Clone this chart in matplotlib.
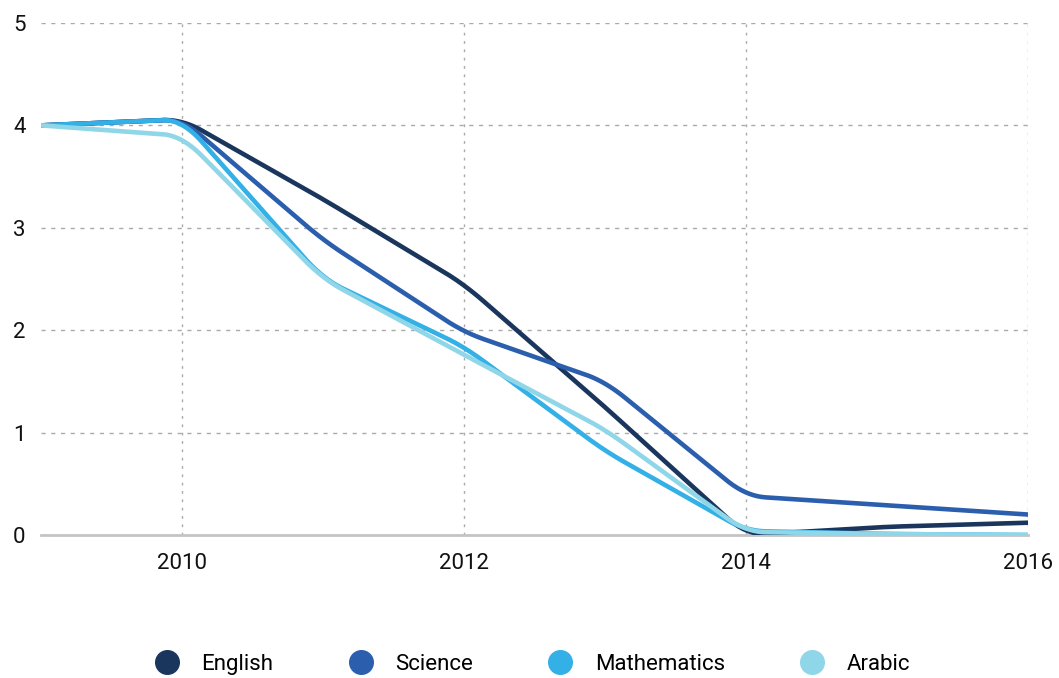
import numpy as np
import matplotlib
matplotlib.use("Agg")
import matplotlib.pyplot as plt
from matplotlib.lines import Line2D

plt.rcParams['font.family'] = ['Roboto', 'DejaVu Sans']

years = [2009, 2010, 2011, 2012, 2013, 2014, 2015, 2016]
english = [4.0, 4.06, 3.28, 2.45, 1.25, 0.0, 0.08, 0.12]
science = [4.0, 4.06, 2.88, 1.98, 1.50, 0.38, 0.29, 0.20]
mathematics = [4.0, 4.06, 2.50, 1.84, 0.82, 0.04, 0.01, 0.0]
arabic = [4.0, 3.90, 2.50, 1.76, 1.03, 0.03, 0.01, 0.0]

names = ['English', 'Science', 'Mathematics', 'Arabic']
colors = ['#1b365d', '#2b5fad', '#33b0e6', '#8fd6e8']


def rounded(x, y, f=0.14, n=30):
    # straight segments with the corners rounded off (quadratic bezier)
    pts = np.column_stack([x, y]).astype(float)
    out = [pts[0]]
    t = np.linspace(0, 1, n)[:, None]
    for k in range(1, len(pts) - 1):
        p = pts[k]
        p1 = p + f * (pts[k - 1] - p)
        p2 = p + f * (pts[k + 1] - p)
        out.extend((1 - t) ** 2 * p1 + 2 * (1 - t) * t * p + t ** 2 * p2)
    out.append(pts[-1])
    out = np.array(out)
    return out[:, 0], out[:, 1]


fig = plt.figure(figsize=(10.59, 6.78), dpi=100)
ax = fig.add_axes([0.0387, 0.2109, 0.9320, 0.7552])

for nm, vals, c in zip(names, [english, science, mathematics, arabic], colors):
    sx, sy = rounded(years, vals)
    ax.plot(sx, sy, color=c, lw=3.3, solid_capstyle='round', zorder=3)

ax.set_xlim(2009, 2016)
ax.set_ylim(0, 5)
ax.set_xticks([2010, 2012, 2014, 2016])
ax.set_yticks([0, 1, 2, 3, 4, 5])
for s in ax.spines.values():
    s.set_visible(False)
for v in [1, 2, 3, 4, 5]:
    ax.axhline(v, color='#aaaaaa', lw=1, ls=(0, (3, 4)), zorder=1)
for v in [2010, 2012, 2014, 2016]:
    ax.axvline(v, color='#aaaaaa', lw=1, ls=(0, (2, 4)), zorder=1)
ax.axhline(0, color='#c4c4c4', lw=2, zorder=2, clip_on=False)
ax.tick_params(length=0, labelsize=16, colors='#111111')
ax.tick_params(axis='x', pad=13)
ax.tick_params(axis='y', pad=11)

handles = [Line2D([], [], ls='none', marker='o', ms=17, color=c) for c in colors]
fig.legend(handles, names, loc='center', bbox_to_anchor=(0.498, 0.020), ncol=4,
           frameon=False, fontsize=16, handlelength=2, handletextpad=0.55,
           columnspacing=2.93)

fig.savefig('out.png', dpi=100)
